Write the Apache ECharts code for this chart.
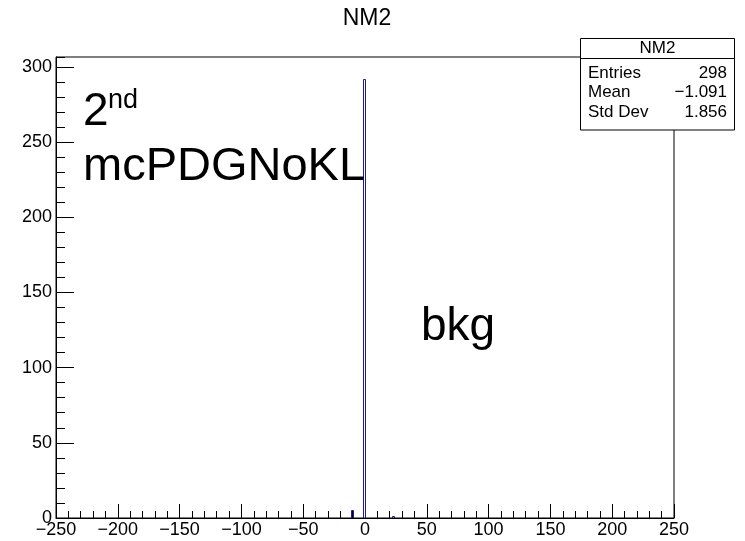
<!DOCTYPE html>
<html>
<head>
<meta charset="utf-8">
<script src="https://cdn.jsdelivr.net/npm/echarts@6/dist/echarts.min.js"></script>
<style>
  html, body { margin: 0; padding: 0; background: #fff; }
  #chart { width: 745px; height: 541px; }
</style>
</head>
<body>
<div id="chart"></div>
<script>
// Histogram NM2: 300 bins over [-250, 250]; only non-empty bins listed
const histTitle = 'NM2';
const xRange = [-250, 250];
const nBins = 300;
const filledBinIndex = [143, 149, 163];
const filledBinCounts = [5, 292, 1];

// Stats box content
const statsLabels = ['Entries', 'Mean', 'Std Dev'];
const statsValues = ['298', '\u22121.091', '1.856'];

// Annotations
const textLines = ['mcPDGNoKL'];
const sampleTag = 'bkg';

const FONT = "'Liberation Sans', Arial, Helvetica, sans-serif";
const binWidth = (xRange[1] - xRange[0]) / nBins;
const yMax = Math.max(...filledBinCounts) * 1.05;

// One row per non-empty bin: [low edge, high edge, content]
const binRows = filledBinIndex.map((b, i) => {
  const lo = xRange[0] + b * binWidth;
  return [lo, lo + binWidth, filledBinCounts[i]];
});

const minus = v => String(v).replace('-', '\u2212');
// snap a 1px stroke onto a pixel centre so thin bins stay sharp
const crisp = v => Math.round(v) + 0.5;

const chart = echarts.init(document.getElementById('chart'), null, { renderer: 'canvas' });

const labelStyle = { color: '#000', fontSize: 18, fontFamily: FONT };

chart.setOption({
  animation: false,
  backgroundColor: '#fff',
  grid: {
    left: 56, right: 71, top: 57, bottom: 23,
    show: true, borderColor: '#000', borderWidth: 1, backgroundColor: 'transparent'
  },
  xAxis: {
    type: 'value', min: xRange[0], max: xRange[1], interval: 50,
    axisLine: { show: true, onZero: false, lineStyle: { color: '#000', width: 1 } },
    axisTick: { show: true, inside: true, length: 14, lineStyle: { color: '#000' } },
    minorTick: { show: true, splitNumber: 5, length: 7, lineStyle: { color: '#000' } },
    splitLine: { show: false },
    axisLabel: Object.assign({ margin: 3, formatter: v => minus(v) }, labelStyle)
  },
  yAxis: [
    {
      type: 'value', min: 0, max: yMax, interval: 50,
      axisLine: { show: true, onZero: false, lineStyle: { color: '#000', width: 1 } },
      axisTick: { show: true, inside: true, length: 18, lineStyle: { color: '#000' } },
      splitLine: { show: false },
      axisLabel: Object.assign({
        margin: 4, showMaxLabel: false,
        formatter: v => (v % 50 === 0 ? String(v) : '')
      }, labelStyle)
    },
    {
      type: 'value', min: 0, max: yMax, interval: 10, position: 'left',
      axisLine: { show: false, onZero: false },
      axisTick: { show: true, inside: true, length: 9, lineStyle: { color: '#000' } },
      splitLine: { show: false },
      axisLabel: { show: false }
    }
  ],
  series: [{
    type: 'custom',
    data: binRows,
    encode: { x: [0, 1], y: 2 },
    z: 3,
    renderItem: (params, api) => {
      const lo = api.coord([api.value(0), 0]);
      const top = api.coord([api.value(0), api.value(2)]);
      const hi = api.coord([api.value(1), 0]);
      const xl = crisp(lo[0]), xh = crisp(hi[0]);
      const yt = crisp(top[1]), yb = lo[1];
      return {
        type: 'polyline',
        shape: { points: [[xl, yb], [xl, yt], [xh, yt], [xh, yb]] },
        style: { stroke: '#1a1aa0', lineWidth: 1, fill: null }
      };
    }
  }],
  graphic: [
    { type: 'text', z: 10, style: { text: histTitle, x: 367, y: 18.5, font: '23px ' + FONT, fill: '#000', align: 'center', verticalAlign: 'middle' } },
    { type: 'text', z: 10, style: { text: '2', x: 83, y: 112.5, font: '46px ' + FONT, fill: '#000', align: 'left', verticalAlign: 'middle' } },
    { type: 'text', z: 10, style: { text: 'nd', x: 108, y: 100.5, font: '27px ' + FONT, fill: '#000', align: 'left', verticalAlign: 'middle' } },
    { type: 'text', z: 10, style: { text: textLines[0], x: 83, y: 167.5, font: '47px ' + FONT, fill: '#000', align: 'left', verticalAlign: 'middle' } },
    { type: 'text', z: 10, style: { text: sampleTag, x: 421, y: 327, font: '46px ' + FONT, fill: '#000', align: 'left', verticalAlign: 'middle' } },
    {
      type: 'group', z: 20,
      children: [
        { type: 'rect', shape: { x: 580.5, y: 38.5, width: 154, height: 91.5 }, style: { fill: '#fff', stroke: '#000', lineWidth: 1 } },
        { type: 'line', shape: { x1: 580.5, y1: 58.5, x2: 734.5, y2: 58.5 }, style: { stroke: '#000', lineWidth: 1 } },
        { type: 'text', style: { text: histTitle, x: 657.5, y: 48.5, font: '17px ' + FONT, fill: '#000', align: 'center', verticalAlign: 'middle' } }
      ].concat(statsLabels.flatMap((lab, i) => [
        { type: 'text', style: { text: lab, x: 588, y: 73 + i * 19.5, font: '17px ' + FONT, fill: '#000', align: 'left', verticalAlign: 'middle' } },
        { type: 'text', style: { text: statsValues[i], x: 727, y: 73 + i * 19.5, font: '17px ' + FONT, fill: '#000', align: 'right', verticalAlign: 'middle' } }
      ]))
    }
  ]
});
</script>
</body>
</html>
